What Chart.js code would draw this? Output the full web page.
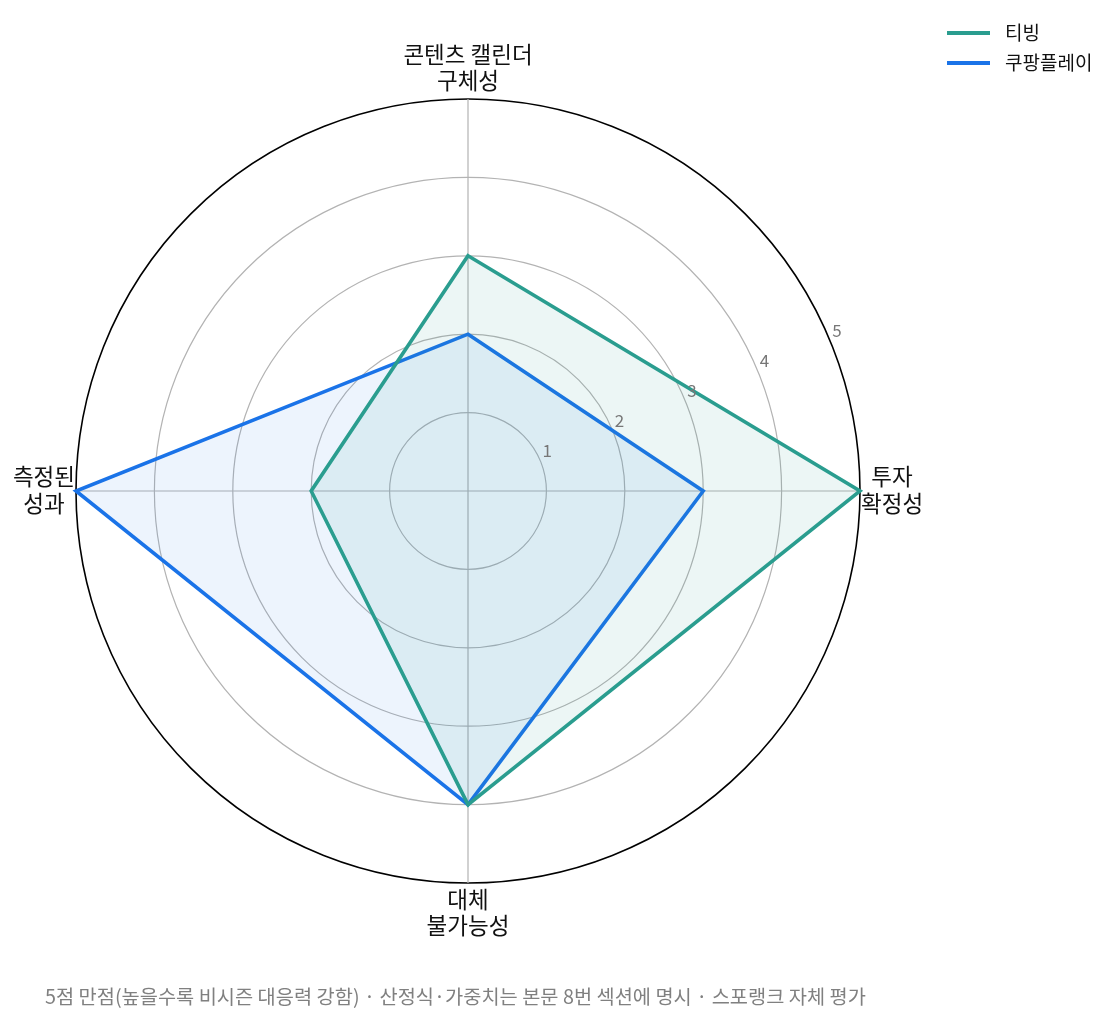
<!DOCTYPE html>
<html>
<head>
<meta charset="utf-8">
<script src="https://cdn.jsdelivr.net/npm/chart.js@4.4.1/dist/chart.umd.min.js"></script>
<style>
html,body{margin:0;padding:0;background:#fff;}
#wrap{width:1117px;height:1023px;position:relative;}
</style>
</head>
<body>
<div id="wrap"><canvas id="c" width="1117" height="1023"></canvas></div>
<script>
// ---- data ----
const categories = [["콘텐츠 캘린더","구체성"], ["투자","확정성"], ["대체","불가능성"], ["측정된","성과"]];
const seriesNames = ["티빙", "쿠팡플레이"];
const tvingValues = [3, 5, 4, 2];
const coupangValues = [2, 3, 4, 5];
const tickValues = [1, 2, 3, 4, 5];
const footnote = "5점 만점(높을수록 비시즌 대응력 강함) · 산정식·가중치는 본문 8번 섹션에 명시 · 스포랭크 자체 평가";

const FONT = '"Noto Sans CJK KR", "Noto Sans", sans-serif';
const colors = ["#2a9d8f", "#1a73e8"];
const fills = ["rgba(42,157,143,0.09)", "rgba(26,115,232,0.08)"];

const overlay = {
  id: 'overlay',
  afterDraw(chart) {
    const ctx = chart.ctx;
    const r = chart.scales.r;
    ctx.save();
    // tick labels along 22.5deg
    const th = 22.5 * Math.PI / 180;
    ctx.font = '17px ' + FONT;
    ctx.fillStyle = '#777777';
    ctx.textAlign = 'left';
    ctx.textBaseline = 'middle';
    tickValues.forEach(v => {
      const d = r.getDistanceFromCenterForValue(v);
      const x = r.xCenter + d * Math.cos(th);
      const y = r.yCenter - d * Math.sin(th);
      ctx.fillText(String(v), x + 2, y - 10);
    });
    // point labels
    ctx.font = '22.5px ' + FONT;
    ctx.fillStyle = '#111111';
    const lh = 26.5;
    const outer = r.getDistanceFromCenterForValue(5);
    chart.data.labels.forEach((lab, i) => {
      const lines = Array.isArray(lab) ? lab : [lab];
      const n = lines.length;
      const ang = r.getIndexAngle(i); // 0 at top, clockwise
      const s = Math.sin(ang), c = Math.cos(ang);
      ctx.textAlign = 'center';
      ctx.textBaseline = 'middle';
      let widths = lines.map(t => ctx.measureText(t).width);
      let bw = Math.max(...widths);
      let cx, cy;
      if (Math.abs(c) > 0.5) { // top or bottom
        const p = r.getPointPosition(i, outer + 6);
        cx = p.x;
        if (c > 0) cy = p.y - (n * lh) / 2 + 1; else cy = p.y + (n * lh) / 2 - 3;
      } else {
        const p = r.getPointPosition(i, outer + 1);
        cy = p.y - 1;
        if (s > 0) cx = p.x + bw / 2; else cx = p.x - bw / 2;
      }
      lines.forEach((t, k) => {
        ctx.fillText(t, cx, cy + (k - (n - 1) / 2) * lh);
      });
    });
    // legend
    ctx.font = '19px ' + FONT;
    ctx.textAlign = 'left';
    ctx.textBaseline = 'middle';
    chart.data.datasets.forEach((ds, i) => {
      const y = 33 + i * 30;
      ctx.strokeStyle = ds.borderColor;
      ctx.lineWidth = 3.8;
      ctx.beginPath();
      ctx.moveTo(947, y);
      ctx.lineTo(990, y);
      ctx.stroke();
      ctx.fillStyle = '#111111';
      ctx.fillText(ds.label, 1005, y);
    });
    // footnote
    ctx.font = '19.75px ' + FONT;
    ctx.fillStyle = '#808080';
    ctx.fillText(footnote, 45, 996);
    ctx.restore();
  }
};

new Chart(document.getElementById('c'), {
  type: 'radar',
  data: {
    labels: categories,
    datasets: [
      { label: seriesNames[0], data: tvingValues, borderColor: colors[0], backgroundColor: fills[0], borderWidth: 3.6, fill: true, pointRadius: 0, pointHoverRadius: 0 },
      { label: seriesNames[1], data: coupangValues, borderColor: colors[1], backgroundColor: fills[1], borderWidth: 3.6, fill: true, pointRadius: 0, pointHoverRadius: 0 }
    ]
  },
  options: {
    responsive: false,
    animation: false,
    events: [],
    layout: { padding: { left: 76, top: 99, right: 257, bottom: 140 } },
    plugins: { legend: { display: false }, tooltip: { enabled: false }, title: { display: false } },
    elements: { line: { tension: 0 } },
    scales: {
      r: {
        min: 0, max: 5,
        ticks: { display: false, stepSize: 1 },
        pointLabels: { display: false },
        grid: {
          circular: true,
          color: ctx => (ctx.tick && ctx.tick.value === 5) ? '#000000' : '#b3b3b3',
          lineWidth: ctx => (ctx.tick && ctx.tick.value === 5) ? 1.6 : 1.2
        },
        angleLines: { color: '#b3b3b3', lineWidth: 1.2 }
      }
    }
  },
  plugins: [overlay]
});
</script>
</body>
</html>
